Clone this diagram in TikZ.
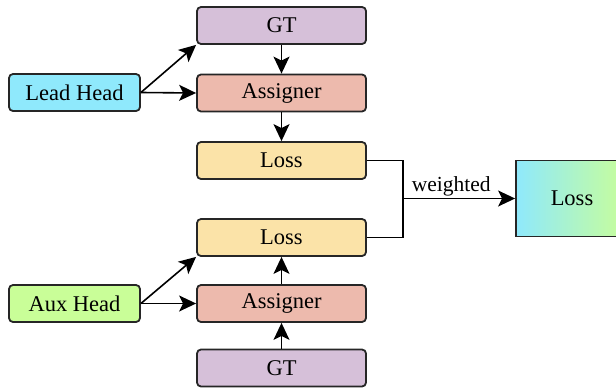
\documentclass[tikz,border=0pt]{standalone}
\usepackage{fontspec}
\setmainfont{Liberation Serif}
\usetikzlibrary{arrows.meta}
\definecolor{gtc}{HTML}{D6C0D9}
\definecolor{leadc}{HTML}{8FE9FC}
\definecolor{asgc}{HTML}{EDBAAD}
\definecolor{lossc}{HTML}{FBE3A8}
\definecolor{auxc}{HTML}{C9FE98}
\begin{document}
\begin{tikzpicture}[x=1pt,y=-1pt,
  box/.style={draw=black!85, line width=1.8pt, rounded corners=4pt, minimum width=169pt, minimum height=37pt, inner sep=0pt, font=\fontsize{22.5}{26}\selectfont},
  headbox/.style={box, minimum width=131pt},
  arr/.style={line width=1.6pt, -{Stealth[length=17pt,width=16pt,inset=4pt]}},
  ln/.style={line width=1.6pt}]
\useasboundingbox (0,0) rectangle (616,388);
\node[box, fill=gtc] (gt1) at (281.5,25.5) {GT};
\node[headbox, fill=leadc] (lead) at (74.5,92.5) {Lead Head};
\node[box, fill=asgc] (as1) at (281.5,93) {Assigner};
\node[box, fill=lossc] (l1) at (281.5,160.5) {Loss};
\node[box, fill=lossc] (l2) at (281.5,237.5) {Loss};
\node[headbox, fill=auxc] (aux) at (74.5,303.5) {Aux Head};
\node[box, fill=asgc] (as2) at (281.5,303.5) {Assigner};
\node[box, fill=gtc] (gt2) at (281.5,368) {GT};
\node[draw=black!85, line width=1.8pt, left color=leadc, right color=auxc, minimum width=112pt, minimum height=76pt, inner sep=0pt, font=\fontsize{22.5}{26}\selectfont] (lt) at (572,198.5) {Loss};
\coordinate (j) at (403,198.5);
\draw[arr] (lead.east) -- (gt1.south west);
\draw[arr] (lead.east) -- (as1.west);
\draw[arr] (gt1.south) -- (as1.north);
\draw[arr] (as1.south) -- (l1.north);
\draw[arr] (aux.east) -- (l2.south west);
\draw[arr] (aux.east) -- (as2.west);
\draw[arr] (as2.south |- gt2.north) -- (as2.south);
\draw[arr] (as2.north) -- (l2.south);
\draw[ln] (l1.east) -| (j);
\draw[ln] (l2.east) -| (j);
\draw[arr] (j) -- node[above, pos=0.43, inner sep=1.5pt, font=\fontsize{21.5}{26}\selectfont] {weighted} (lt.west);
\end{tikzpicture}
\end{document}
